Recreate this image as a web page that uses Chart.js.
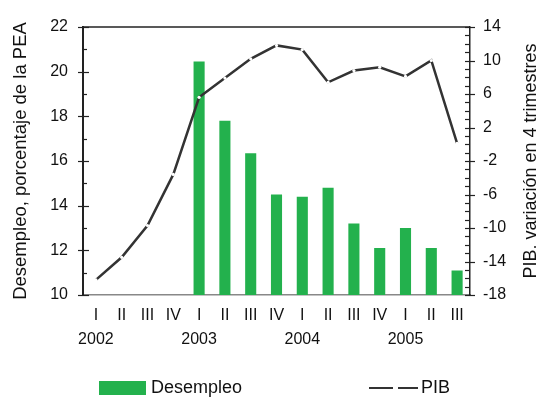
<!DOCTYPE html>
<html lang="es">
<head>
<meta charset="UTF-8" />
<title>Desempleo y PIB</title>
<script src="https://cdn.jsdelivr.net/npm/chart.js"></script>
<style>
  html, body { margin: 0; padding: 0; background: #fff; }
  #wrap { width: 538px; height: 398px; }
</style>
</head>
<body>
<div id="wrap"><canvas id="chart" width="538" height="398"></canvas></div>
<script>
  const quarters = ['I', 'II', 'III', 'IV', 'I', 'II', 'III', 'IV', 'I', 'II', 'III', 'IV', 'I', 'II', 'III'];
  const years = ['2002', '', '', '', '2003', '', '', '', '2004', '', '', '', '2005', '', ''];
  const desempleo = [null, null, null, null, 20.45, 17.8, 16.35, 14.5, 14.4, 14.8, 13.2, 12.1, 13.0, 12.1, 11.1];
  const pib = [-16.2, -13.5, -9.7, -3.6, 5.6, 7.9, 10.2, 11.8, 11.3, 7.4, 8.8, 9.2, 8.1, 10.0, 0.1];
  const leftTicks = [10, 12, 14, 16, 18, 20, 22];
  const rightTicks = [-18, -14, -10, -6, -2, 2, 6, 10, 14];

  const FONT = '"Liberation Sans", Arial, Helvetica, sans-serif';
  const GREEN = '#23b14d';
  const DARK = '#333333';

  // major / minor tick marks on both value axes + top frame line
  const axisMarks = {
    id: 'axisMarks',
    afterDraw(chart) {
      const { ctx, chartArea: a, scales } = chart;
      ctx.save();
      ctx.strokeStyle = '#222';
      ctx.lineWidth = 1.5;
      ctx.beginPath();
      ctx.moveTo(a.left, a.top);
      ctx.lineTo(a.right, a.top);
      ctx.stroke();

      ctx.lineWidth = 1.2;
      for (let v = scales.y.min; v <= scales.y.max; v++) {
        const p = Math.round(scales.y.getPixelForValue(v)) + 0.5;
        const major = leftTicks.includes(v);
        ctx.beginPath();
        ctx.moveTo(a.left - (major ? 5 : 0), p);
        ctx.lineTo(a.left + (major ? 6 : 4), p);
        ctx.stroke();
      }
      for (let v = scales.y2.min; v <= scales.y2.max; v++) {
        const p = Math.round(scales.y2.getPixelForValue(v)) + 0.5;
        const major = rightTicks.includes(v);
        ctx.beginPath();
        ctx.moveTo(a.right - 5, p);
        ctx.lineTo(a.right + (major ? 5 : 0), p);
        ctx.stroke();
      }
      ctx.restore();
    }
  };

  // right axis title reads bottom-to-top, like the left one
  const rightTitle = {
    id: 'rightTitle',
    afterDraw(chart) {
      const { ctx, chartArea: a } = chart;
      ctx.save();
      ctx.translate(531, (a.top + a.bottom) / 2);
      ctx.rotate(-Math.PI / 2);
      ctx.font = '18px ' + FONT;
      ctx.fillStyle = '#111';
      ctx.textAlign = 'center';
      ctx.textBaseline = 'middle';
      ctx.fillText('PIB. variación en 4 trimestres', 0, 0);
      ctx.restore();
    }
  };

  // legend drawn at the bottom, spread like the original
  const bottomLegend = {
    id: 'bottomLegend',
    afterDraw(chart) {
      const { ctx } = chart;
      const bar = chart.data.datasets[1];
      const line = chart.data.datasets[0];
      const cy = 388;
      ctx.save();
      ctx.font = '18px ' + FONT;
      ctx.textBaseline = 'middle';

      ctx.fillStyle = bar.backgroundColor;
      ctx.fillRect(99, cy - 7, 47, 14);
      ctx.fillStyle = '#111';
      ctx.fillText(bar.label, 151, cy);

      ctx.strokeStyle = line.borderColor;
      ctx.lineWidth = 2.2;
      ctx.setLineDash([24, 5]);
      ctx.beginPath();
      ctx.moveTo(369, cy);
      ctx.lineTo(418, cy);
      ctx.stroke();
      ctx.setLineDash([]);
      ctx.fillText(line.label, 421, cy);
      ctx.restore();
    }
  };

  const tickFont = { family: FONT, size: 16, lineHeight: 1.5 };

  new Chart(document.getElementById('chart'), {
    data: {
      labels: quarters.map((q, i) => [q, years[i]]),
      datasets: [
        {
          type: 'line',
          label: 'PIB',
          data: pib,
          yAxisID: 'y2',
          borderColor: DARK,
          borderWidth: 2.5,
          tension: 0,
          pointRadius: 1.6,
          pointBackgroundColor: '#fff',
          pointBorderWidth: 0,
          order: 0
        },
        {
          type: 'bar',
          label: 'Desempleo',
          data: desempleo,
          yAxisID: 'y',
          backgroundColor: GREEN,
          barPercentage: 0.43,
          categoryPercentage: 1,
          order: 1
        }
      ]
    },
    options: {
      responsive: false,
      animation: false,
      layout: { padding: { top: 17, bottom: 45, left: 0, right: 0 } },
      plugins: {
        legend: { display: false },
        tooltip: { enabled: false }
      },
      scales: {
        x: {
          offset: true,
          grid: { display: false, drawTicks: false },
          border: { display: true, color: '#888', width: 1.5 },
          ticks: { autoSkip: false, maxRotation: 0, padding: 9, color: '#111', font: tickFont },
          afterFit: s => { s.height = 58; }
        },
        y: {
          position: 'left',
          min: 10,
          max: 22,
          afterBuildTicks: s => { s.ticks = leftTicks.map(v => ({ value: v })); },
          grid: { display: false, drawTicks: false },
          border: { color: '#222', width: 2 },
          ticks: { padding: 15, color: '#111', font: tickFont },
          title: {
            display: true,
            text: 'Desempleo, porcentaje de la PEA',
            color: '#111',
            font: { family: FONT, size: 18.5 },
            padding: { top: 10, bottom: 0 }
          },
          afterFit: s => { s.width = 83; }
        },
        y2: {
          position: 'right',
          min: -18,
          max: 14,
          afterBuildTicks: s => { s.ticks = rightTicks.map(v => ({ value: v })); },
          grid: { display: false, drawTicks: false },
          border: { color: '#222', width: 1.5 },
          ticks: { padding: 13, color: '#111', font: tickFont },
          afterFit: s => { s.width = 68; }
        }
      }
    },
    plugins: [axisMarks, rightTitle, bottomLegend]
  });
</script>
</body>
</html>
